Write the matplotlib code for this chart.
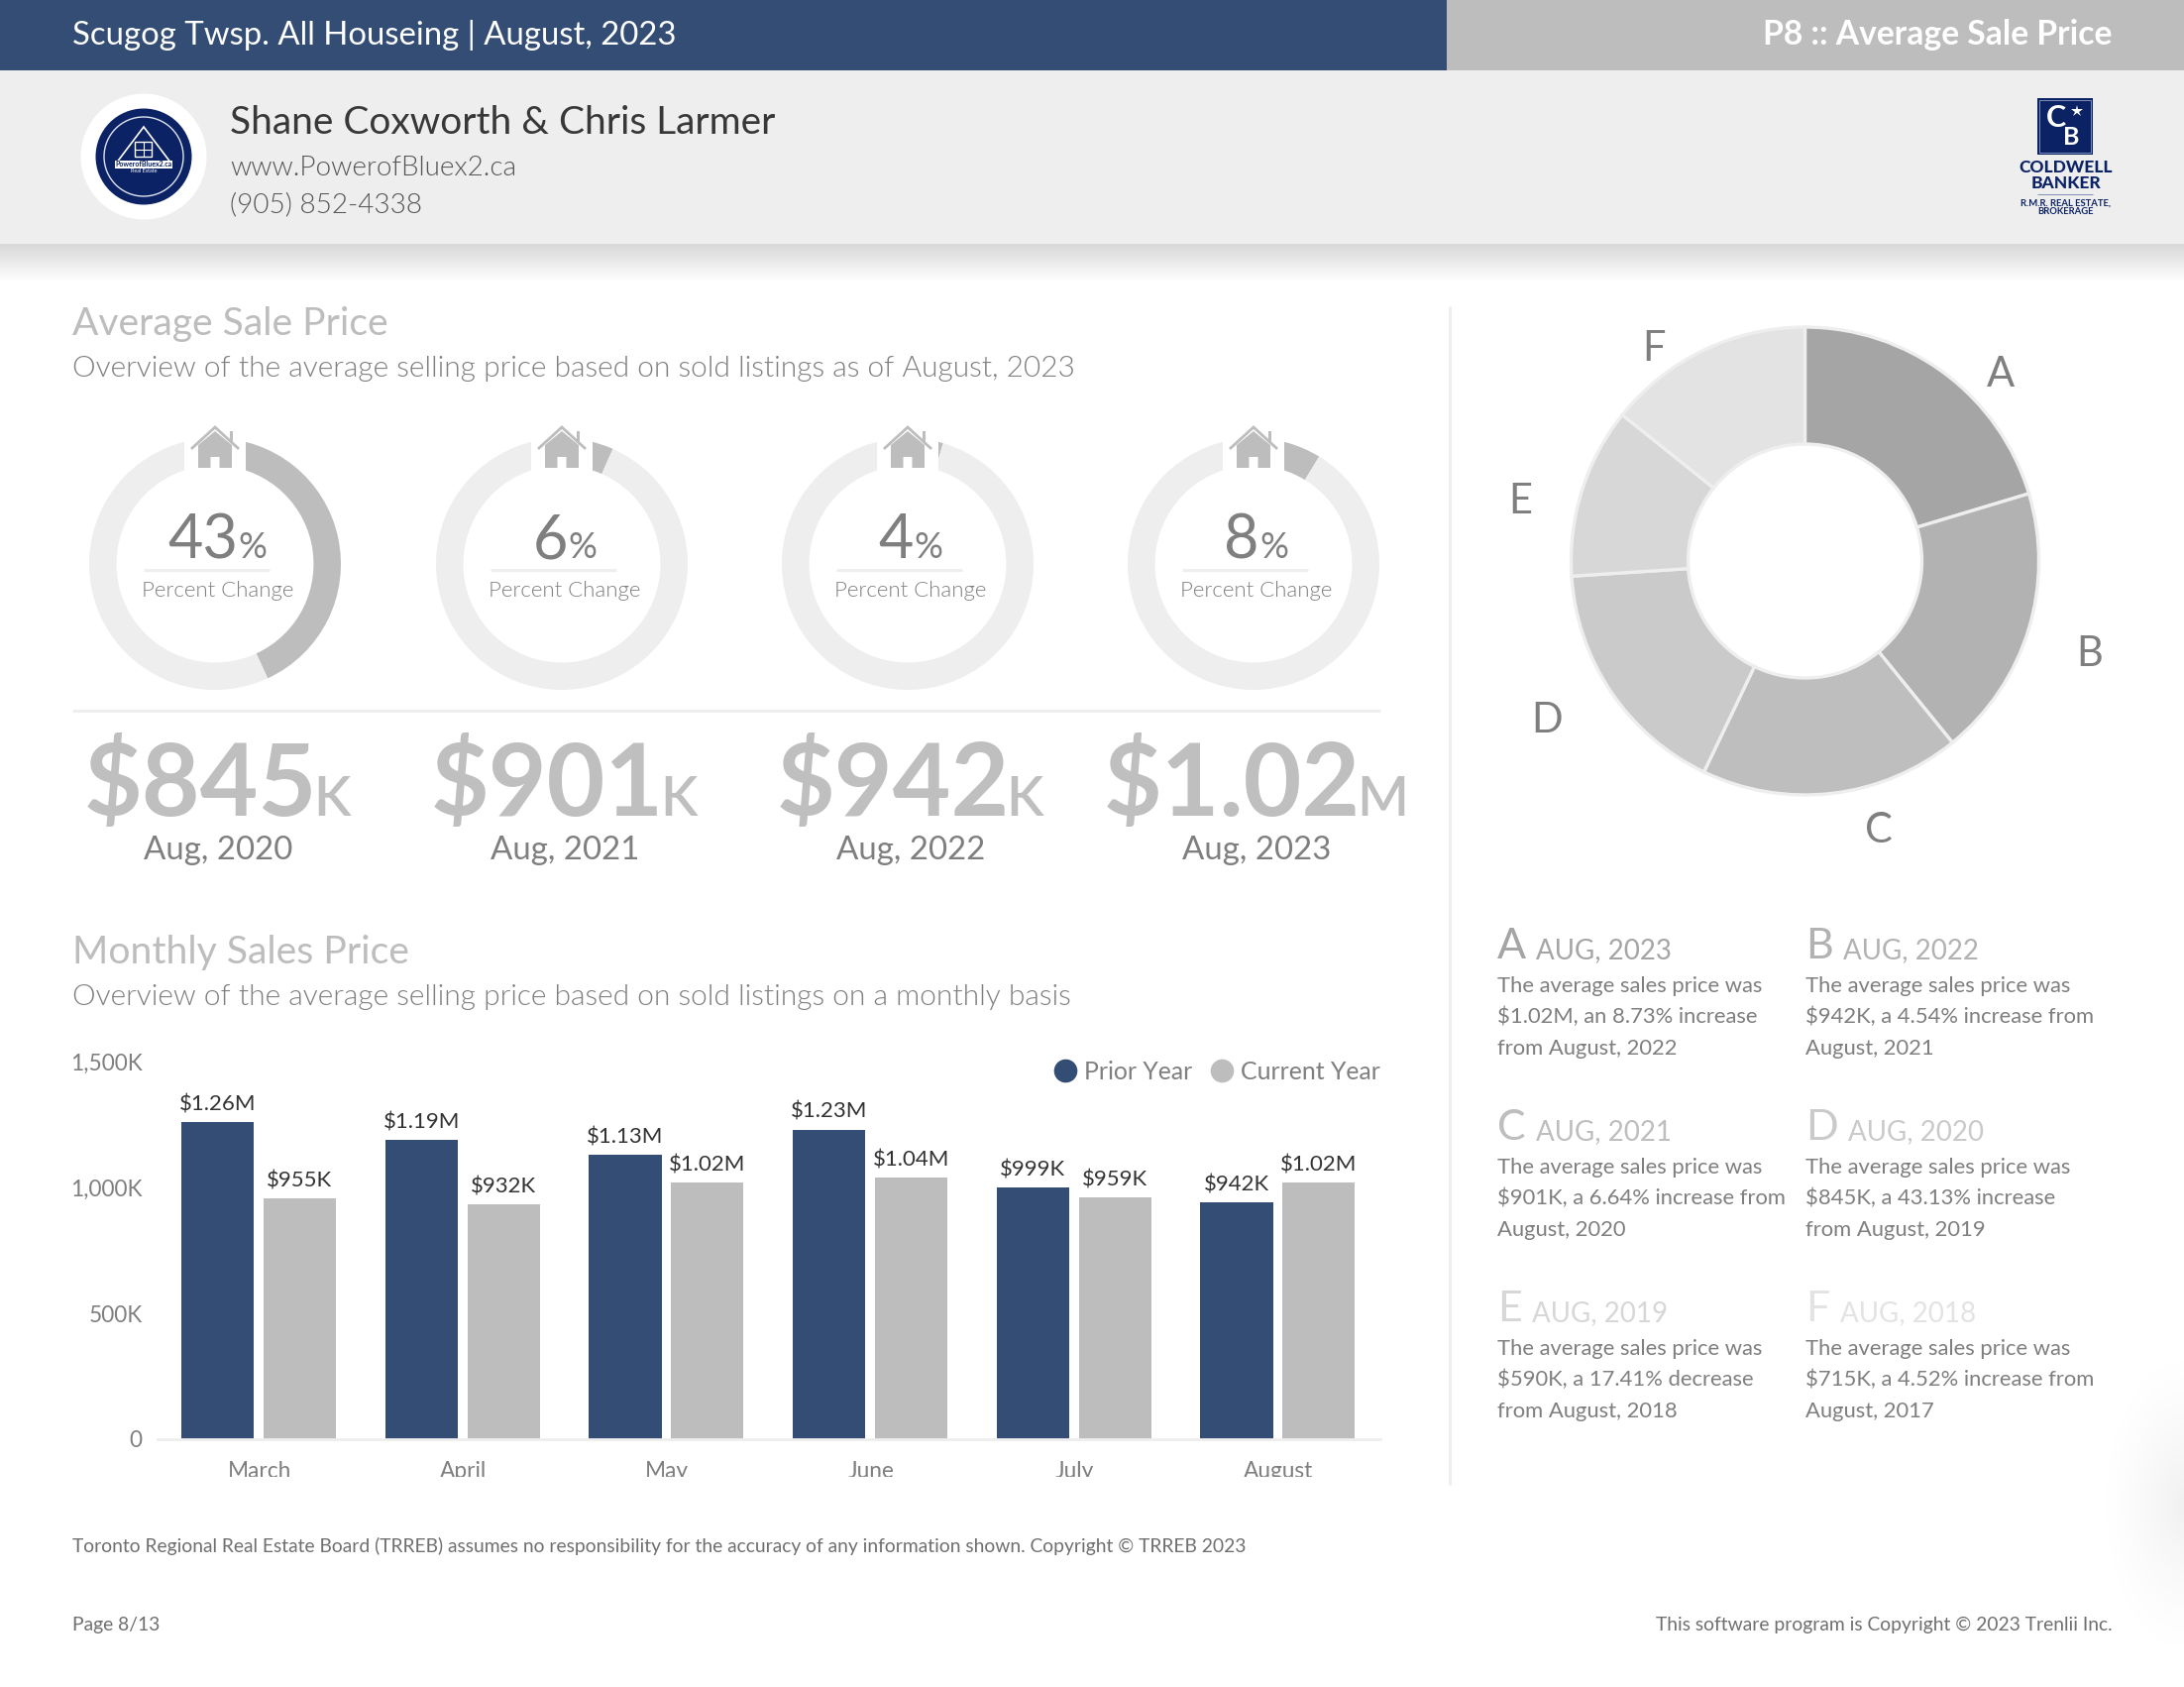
import numpy as np
import matplotlib
matplotlib.use('Agg')
import matplotlib.pyplot as plt
from matplotlib.lines import Line2D
from matplotlib.patches import Circle, Polygon, Rectangle

plt.rcParams['font.family'] = ['Lato', 'DejaVu Sans']

W, H = 2204, 1702

NAVY = '#334d75'
GREY = '#bdbdbd'
PALE = '#eeeeee'
TXT = '#7f7f7f'
LOGO = '#0b2265'
LIGHT = 300

# data
months = ['March', 'April', 'May', 'June', 'July', 'August']
prior_year = [1260, 1190, 1130, 1230, 999, 942]
current_year = [955, 932, 1020, 1040, 959, 1020]
prior_labels = ['$1.26M', '$1.19M', '$1.13M', '$1.23M', '$999K', '$942K']
current_labels = ['$955K', '$932K', '$1.02M', '$1.04M', '$959K', '$1.02M']
y_ticks = [0, 500, 1000, 1500]
y_tick_labels = ['0', '500K', '1,000K', '1,500K']

gauge_pct = [43.13, 6.64, 4.54, 8.73]
gauge_text = ['43', '6', '4', '8']
big_price = ['$845', '$901', '$942', '$1.02']
big_unit = ['K', 'K', 'K', 'M']
big_date = ['Aug, 2020', 'Aug, 2021', 'Aug, 2022', 'Aug, 2023']

donut_letters = ['A', 'B', 'C', 'D', 'E', 'F']
donut_values = [1020, 942, 901, 845, 590, 715]
donut_colors = ['#a5a5a5', '#b2b2b2', '#bebebe', '#cacaca', '#d7d7d7', '#e3e3e3']
note_dates = ['AUG, 2023', 'AUG, 2022', 'AUG, 2021', 'AUG, 2020', 'AUG, 2019', 'AUG, 2018']
note_lines = [
    ['The average sales price was', '$1.02M, an 8.73% increase', 'from August, 2022'],
    ['The average sales price was', '$942K, a 4.54% increase from', 'August, 2021'],
    ['The average sales price was', '$901K, a 6.64% increase from', 'August, 2020'],
    ['The average sales price was', '$845K, a 43.13% increase', 'from August, 2019'],
    ['The average sales price was', '$590K, a 17.41% decrease', 'from August, 2018'],
    ['The average sales price was', '$715K, a 4.52% increase from', 'August, 2017'],
]

fig = plt.figure(figsize=(W / 100, H / 100), dpi=100, facecolor='white')


def px_axes(x0, y0, x1, y1, **kw):
    return fig.add_axes([x0 / W, 1 - y1 / H, (x1 - x0) / W, (y1 - y0) / H], **kw)


# full page layer in pixel coordinates, on top of the chart axes
page = px_axes(0, 0, W, H, zorder=5)
page.set_xlim(0, W)
page.set_ylim(H, 0)
page.axis('off')
renderer = fig.canvas.get_renderer()


def text(x, y, s, size, color=TXT, weight='normal', ha='left', va='baseline'):
    return page.text(x, y, s, fontsize=size, color=color, weight=weight, ha=ha, va=va)


def width_of(t):
    bb = t.get_window_extent(renderer)
    return bb.width


def hline(x0, x1, y, color=PALE, lw=2.2):
    page.plot([x0, x1], [y, y], color=color, lw=lw, solid_capstyle='butt')


# header bands
page.add_patch(Rectangle((0, 0), 1460, 71, color=NAVY, lw=0))
page.add_patch(Rectangle((1460, 0), W - 1460, 71, color=GREY, lw=0))
page.add_patch(Rectangle((0, 71), W, 175, color='#eeeeee', lw=0))
shadow = np.linspace(0, 1, 40).reshape(-1, 1)
page.imshow(shadow, extent=(0, W, 284, 246), cmap='gray', vmin=-5.5, vmax=1,
            aspect='auto', zorder=0.5, alpha=1)

# faint glow on the right edge near the foot of the page
gx, gy = np.meshgrid(np.linspace(0, 1, 80), np.linspace(-1, 1, 200))
glow = np.zeros((200, 80, 4))
glow[..., 3] = 0.06 * np.clip(1 - np.hypot(1 - gx, gy), 0, 1) ** 1.5
page.imshow(glow, extent=(2110, W, 1690, 1345), aspect='auto', zorder=0.5)
page.set_xlim(0, W)
page.set_ylim(H, 0)

text(73, 45, 'Scugog Twsp. All Houseing | August, 2023', 23.7, 'white')
text(2131, 45, 'P8 :: Average Sale Price', 24.2, 'white', weight='bold', ha='right')
text(232, 135, 'Shane Coxworth & Chris Larmer', 28, '#383838')
text(232, 177, 'www.PowerofBluex2.ca', 20.1, '#555555', weight=LIGHT)
text(232, 214, '(905) 852-4338', 20.1, '#555555', weight=LIGHT)

# agent logo
page.add_patch(Circle((145, 158), 63.5, color='white', lw=0))
page.add_patch(Circle((145, 158), 48.5, color=LOGO, lw=0))
page.add_patch(Circle((145, 158), 40, fill=False, ec='#dfe3ee', lw=1))
page.add_patch(Polygon([(117, 165), (145, 128), (173, 165)], closed=True, fill=False, ec='white', lw=1.2))
page.add_patch(Rectangle((136, 143), 17, 15, fill=False, ec='white', lw=1))
page.plot([144.5, 144.5], [143, 158], color='white', lw=0.8)
page.plot([136, 153], [150.5, 150.5], color='white', lw=0.8)
page.add_patch(Rectangle((116, 162), 58, 8, color='white', lw=0))
text(145, 166, 'PowerofBluex2.ca', 5, LOGO, weight='bold', ha='center', va='center')
text(145, 173, 'Real Estate', 4, 'white', ha='center', va='center')

# brokerage logo
page.add_patch(Rectangle((2056, 99), 56, 57, color=LOGO, lw=0))
page.add_patch(Rectangle((2058, 101), 52, 53, fill=False, ec='#8fa0c4', lw=0.6))
text(2075, 119, 'C', 22, 'white', weight='bold', ha='center', va='center')
text(2090, 138, 'B', 18, 'white', weight='bold', ha='center', va='center')
page.plot([2096], [112], marker='*', ms=9, color='white', mew=0)
text(2084.5, 169, 'COLDWELL', 12.5, LOGO, weight='black', ha='center', va='center')
text(2084.5, 185, 'BANKER', 12.5, LOGO, weight='black', ha='center', va='center')
hline(2056, 2112, 196, color='#7f90b8', lw=0.7)
text(2084.5, 205, 'R.M.R. REAL ESTATE,', 6.8, LOGO, weight='bold', ha='center', va='center')
text(2084.5, 214, 'BROKERAGE', 6.8, LOGO, weight='bold', ha='center', va='center')

# section headings
text(73, 338, 'Average Sale Price', 28.1, GREY)
text(73, 380, 'Overview of the average selling price based on sold listings as of August, 2023', 21.5, TXT, weight=LIGHT)
text(73, 972, 'Monthly Sales Price', 28.2, GREY)
text(73, 1014, 'Overview of the average selling price based on sold listings on a monthly basis', 21.5, TXT, weight=LIGHT)

page.plot([1462.5, 1462.5], [309, 1498], color=PALE, lw=2.2, solid_capstyle='butt')
hline(73, 1393, 717)

# gauges and big numbers
gauge_x = [217, 567, 916, 1265]
gauge_y = 569
gauge_r = 127
for i, cx in enumerate(gauge_x):
    ax = px_axes(cx - gauge_r * 1.05, gauge_y - gauge_r * 1.05, cx + gauge_r * 1.05, gauge_y + gauge_r * 1.05)
    ax.pie([gauge_pct[i], 100 - gauge_pct[i]], colors=[GREY, PALE], startangle=90, counterclock=False,
           radius=1, wedgeprops={'width': 0.217, 'linewidth': 0})
    ax.set_xlim(-1.05, 1.05)
    ax.set_ylim(-1.05, 1.05)

    # white notch and house
    page.add_patch(Rectangle((cx - 31, 430), 62, 50, color='white', lw=0))
    page.add_patch(Polygon([(cx - 17, 472), (cx - 17, 449), (cx, 435), (cx + 17, 449), (cx + 17, 472),
                            (cx + 4.5, 472), (cx + 4.5, 461), (cx - 4.5, 461), (cx - 4.5, 472)],
                           closed=True, color=GREY, lw=0))
    page.plot([cx - 23, cx, cx + 23], [452, 431, 452], color=GREY, lw=2, solid_joinstyle='miter')
    page.add_patch(Rectangle((cx + 15, 435), 3, 12, color=GREY, lw=0))

    # percent figure, split so the sign can be smaller
    split = cx + 6 + 17.5 * (len(gauge_text[i]) - 1)
    text(split, 563, gauge_text[i], 44, TXT, ha='right')
    text(split, 563, '%', 26, TXT)
    hline(cx - 72, cx + 55, 575)
    text(cx + 3, 602, 'Percent Change', 16, TXT, weight=LIGHT, ha='center')

    # price with smaller unit, centred as one piece
    t1 = text(0, 823, big_price[i], 73, '#bfbfbf', weight='bold')
    t2 = text(0, 823, big_unit[i], 40, '#bfbfbf', weight='semibold')
    w1, w2 = width_of(t1), width_of(t2)
    left = cx + 4 - (w1 + w2) / 2
    t1.set_x(left)
    t2.set_x(left + w1 - 3.5)
    text(cx + 3, 867, big_date[i], 23.8, TXT, ha='center')

# bar chart
bar_ax = px_axes(159, 1071, 1393, 1452)
x = np.arange(len(months))
bar_w = 0.355
bars1 = bar_ax.bar(x - 0.205, prior_year, bar_w, color=NAVY, label='Prior Year')
bars2 = bar_ax.bar(x + 0.197, current_year, bar_w, color=GREY, label='Current Year')
bar_ax.bar_label(bars1, labels=prior_labels, padding=5.5, fontsize=16, color='#333333')
bar_ax.bar_label(bars2, labels=current_labels, padding=5.5, fontsize=16, color='#333333')
bar_ax.set_xlim(-0.5, 5.5)
bar_ax.set_ylim(0, 1500)
bar_ax.set_xticks(x, months)
bar_ax.set_yticks(y_ticks, y_tick_labels)
bar_ax.tick_params(axis='both', length=0, labelsize=16.3, labelcolor=TXT)
bar_ax.tick_params(axis='x', pad=16)
bar_ax.tick_params(axis='y', pad=11)
for side in ['top', 'left', 'right']:
    bar_ax.spines[side].set_visible(False)
bar_ax.spines['bottom'].set_color(PALE)
bar_ax.spines['bottom'].set_linewidth(2)

handles = [Line2D([], [], marker='o', ls='', ms=17, color=NAVY, mew=0),
           Line2D([], [], marker='o', ls='', ms=17, color=GREY, mew=0)]
bar_ax.legend(handles, ['Prior Year', 'Current Year'], ncol=2, frameon=False, fontsize=17.9, labelcolor=TXT,
              loc='upper right', bbox_to_anchor=(1.0, 1.003), borderaxespad=0, borderpad=0,
              handletextpad=0.05, columnspacing=0.52, handlelength=1.4)

# month labels are cut off at the foot of the card
page.add_patch(Rectangle((150, 1490), 1250, 30, color='white', lw=0))

# donut
cx, cy, r = 1821.5, 566, 236
donut_ax = px_axes(cx - r * 1.03, cy - r * 1.03, cx + r * 1.03, cy + r * 1.03)
donut_ax.pie(donut_values, colors=donut_colors, startangle=90, counterclock=False, radius=1,
             wedgeprops={'width': 0.5, 'edgecolor': PALE, 'linewidth': 2.4})
donut_ax.set_xlim(-1.03, 1.03)
donut_ax.set_ylim(-1.03, 1.03)

letter_pos = [(2019, 378), (2109, 660), (1896, 838), (1561, 727), (1534, 506), (1669, 352)]
for (lx, ly), s in zip(letter_pos, donut_letters):
    text(lx, ly, s, 30, TXT, ha='center', va='center')

# notes under the donut
col_x = [1511, 1822.5]
row_y = [967, 1150, 1333]
for i, s in enumerate(donut_letters):
    nx = col_x[i % 2]
    ny = row_y[i // 2]
    t = text(nx, ny, s, 31, donut_colors[i])
    text(nx + width_of(t) + 10, ny, note_dates[i], 20, donut_colors[i])
    for j, line in enumerate(note_lines[i]):
        text(nx, ny + 34 + j * 31.5, line, 15.8, TXT)

# footer
foot = '#6f6f6f'
text(73, 1566, 'Toronto Regional Real Estate Board (TRREB) assumes no responsibility for the accuracy of any information shown. Copyright \u00a9 TRREB 2023',
     13.9, foot)
text(73, 1645, 'Page 8/13', 13.9, foot)
text(2132, 1645, 'This software program is Copyright \u00a9 2023 Trenlii Inc.', 13.9, foot, ha='right')

fig.savefig('out.png', dpi=100)
